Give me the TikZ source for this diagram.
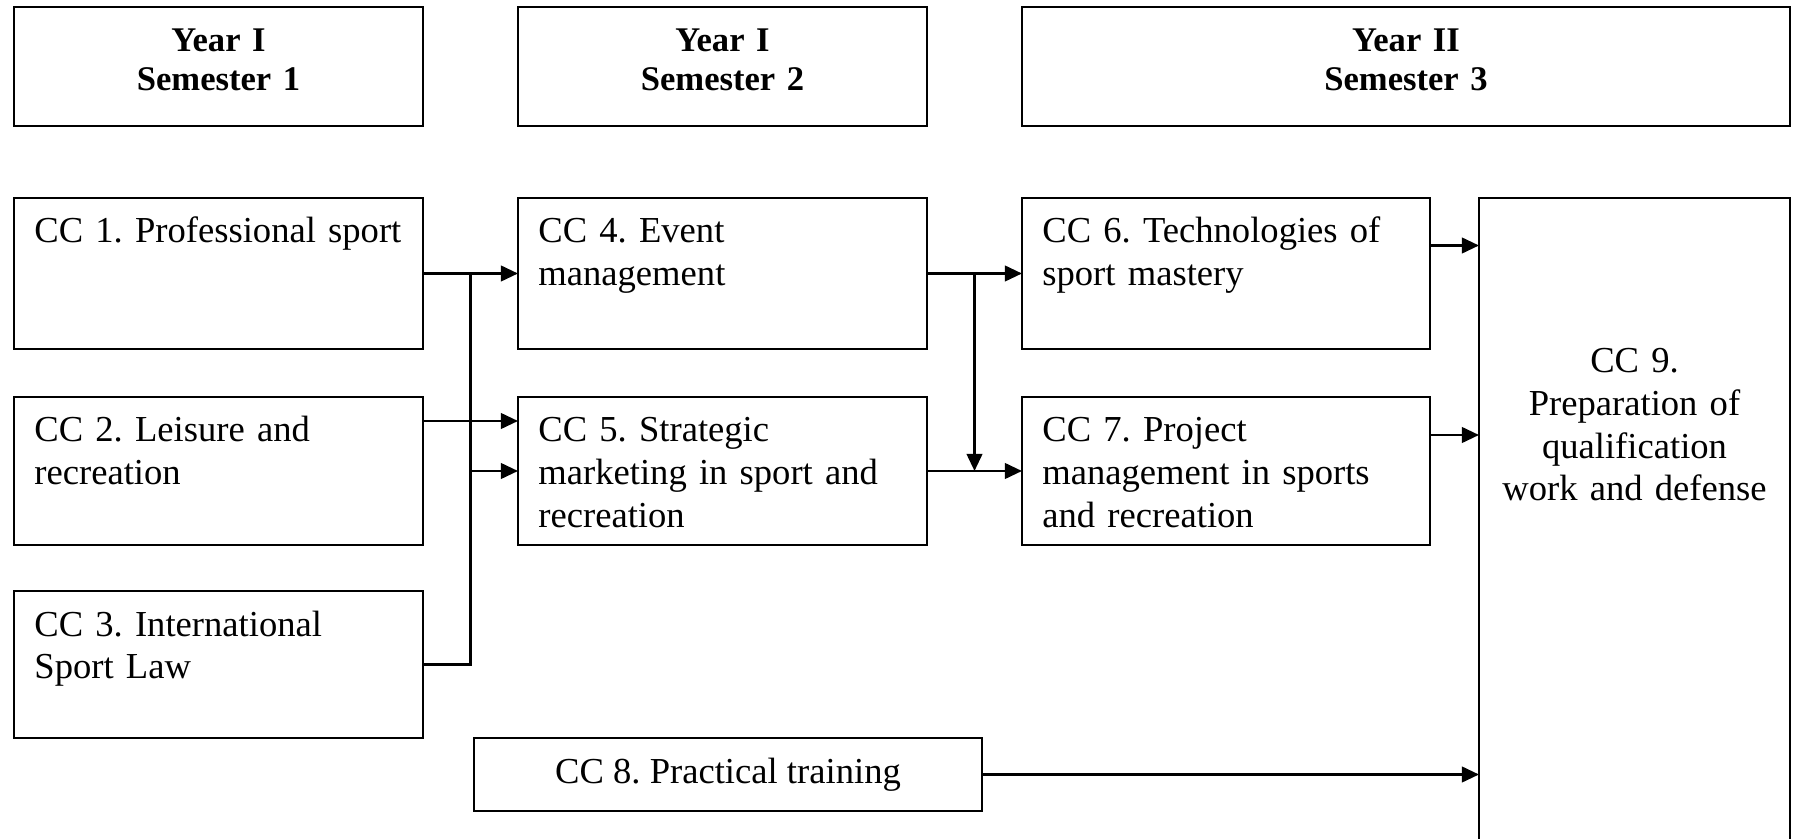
\documentclass[tikz,border=0pt]{standalone}
\usepackage{fontspec}
\setmainfont{Liberation Serif}
\usetikzlibrary{arrows.meta,calc}
\frenchspacing
\begin{document}
\frenchspacing
\begin{tikzpicture}[x=0.5pt,y=-0.5pt,
  box/.style={draw, line width=1pt, inner sep=0pt, outer sep=0pt, anchor=north west},
  txt/.style={font=\fontsize{18.3pt}{21.3pt}\selectfont\frenchspacing, inner sep=0pt, anchor=base west, align=left, text width=200pt},
  hdr/.style={font=\fontsize{17.3pt}{19.3pt}\selectfont\bfseries, inner sep=0pt, anchor=base, align=center, text width=180pt},
  arr/.style={line width=1.3pt, -{Triangle[length=8.6pt,width=7.8pt]}},
  con/.style={line width=1.3pt}]
\useasboundingbox (0,0) rectangle (1794,839);
% headers
\node[box, minimum width=204.5pt, minimum height=59.5pt] (h1) at (14,7) {};
\node[box, minimum width=204.5pt, minimum height=59.5pt] (h2) at (518,7) {};
\node[box, minimum width=384pt, minimum height=59.5pt] (h3) at (1022,7) {};
\node[hdr] (h1t) at ([yshift=-22.5pt]h1.north) {Year I\\Semester 1};
\node[hdr] (h2t) at ([yshift=-22.5pt]h2.north) {Year I\\Semester 2};
\node[hdr] (h3t) at ([yshift=-22.5pt]h3.north) {Year II\\Semester 3};
% course boxes
\node[box, minimum width=204.5pt, minimum height=75.5pt] (cc1) at (14,198) {};
\node[box, minimum width=204.5pt, minimum height=74pt] (cc2) at (14,397) {};
\node[box, minimum width=204.5pt, minimum height=73.5pt] (cc3) at (14,591) {};
\node[box, minimum width=204.5pt, minimum height=75.5pt] (cc4) at (518,198) {};
\node[box, minimum width=204.5pt, minimum height=74pt] (cc5) at (518,397) {};
\node[box, minimum width=204pt, minimum height=75.5pt] (cc6) at (1022,198) {};
\node[box, minimum width=204pt, minimum height=74pt] (cc7) at (1022,397) {};
\node[box, minimum width=254pt, minimum height=36.5pt, font=\fontsize{18.3pt}{21.3pt}\selectfont\frenchspacing] (cc8) at (474,738) {CC 8. Practical training};
\node[box, minimum width=155.5pt, minimum height=330pt] (cc9) at (1479,198) {};
% texts
\node[txt] (t1) at ([xshift=10pt,yshift=-22.5pt]cc1.north west) {CC 1. Professional sport};
\node[txt] (t2) at ([xshift=10pt,yshift=-22.5pt]cc2.north west) {CC 2. Leisure and\\recreation};
\node[txt] (t3) at ([xshift=10pt,yshift=-22.5pt]cc3.north west) {CC 3. International\\Sport Law};
\node[txt] (t4) at ([xshift=10pt,yshift=-22.5pt]cc4.north west) {CC 4. Event\\management};
\node[txt] (t5) at ([xshift=10pt,yshift=-22.5pt]cc5.north west) {CC 5. Strategic\\marketing in sport and\\recreation};
\node[txt] (t6) at ([xshift=10pt,yshift=-22.5pt]cc6.north west) {CC 6. Technologies of\\sport mastery};
\node[txt] (t7) at ([xshift=10pt,yshift=-22.5pt]cc7.north west) {CC 7. Project\\management in sports\\and recreation};
\node[txt, anchor=base, align=center, text width=150pt] (t9) at ([yshift=-87.5pt]cc9.north) {CC 9.\\Preparation of\\qualification\\work and defense};
% connectors
\draw[arr] (cc1.east) -- (cc4.west);
\coordinate (b1) at ($(cc1.east)!0.5!(cc4.west)$);
\draw[con] (cc3.east) -| (b1);
\draw[arr] (b1 |- cc5.west) -- (cc5.west);
\draw[arr] ([yshift=25pt]cc2.east) -- ([yshift=25pt]cc5.west);
\draw[arr] (cc4.east) -- (cc6.west);
\coordinate (b2) at ($(cc4.east)!0.5!(cc6.west)$);
\draw[arr] (b2) -- (b2 |- cc5.east);
\draw[arr] (cc5.east) -- (cc7.west);
\coordinate (a6) at ([yshift=14pt]cc6.east);
\coordinate (a7) at ([yshift=18pt]cc7.east);
\draw[arr] (a6) -- (a6 -| cc9.west);
\draw[arr] (a7) -- (a7 -| cc9.west);
\draw[arr] (cc8.east) -- (cc8.east -| cc9.west);
\end{tikzpicture}
\end{document}
